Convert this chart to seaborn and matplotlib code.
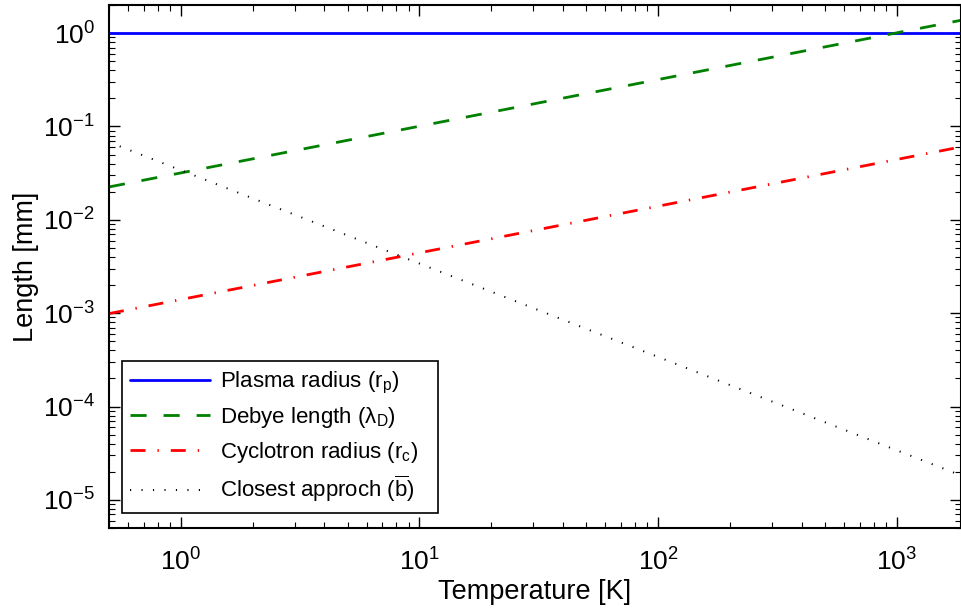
import numpy as np
import pandas as pd
import matplotlib
matplotlib.use("Agg")
import matplotlib.pyplot as plt
import seaborn as sns
from matplotlib.ticker import LogLocator, LogFormatterSciNotation, NullFormatter

# Data
temperature = [0.5, 1, 10, 100, 1000, 1860]
plasma_radius = [1.0, 1.0, 1.0, 1.0, 1.0, 1.0]
debye_length = [0.0225, 0.0318, 0.1006, 0.318, 1.006, 1.372]
cyclotron_radius = [0.00099, 0.0014, 0.00443, 0.014, 0.0443, 0.0604]
closest_approach = [0.068, 0.034, 0.0034, 0.00034, 3.4e-5, 1.83e-5]

labels = ["Plasma radius (r$_\\mathregular{p}$)",
          "Debye length ($\\lambda_\\mathregular{D}$)",
          "Cyclotron radius (r$_\\mathregular{c}$)",
          "Closest approch ($\\overline{\\mathregular{b}}$)"]

sns.set_theme(style="ticks")
plt.rcParams["font.family"] = ["Liberation Sans", "DejaVu Sans"]
plt.rcParams["mathtext.fontset"] = "custom"
plt.rcParams["mathtext.rm"] = "Liberation Sans"
plt.rcParams["mathtext.it"] = "Liberation Sans:italic"
plt.rcParams["mathtext.default"] = "regular"
for k in ["text.color", "axes.labelcolor", "xtick.color", "ytick.color",
          "xtick.labelcolor", "ytick.labelcolor"]:
    plt.rcParams[k] = "black"

fig = plt.figure(figsize=(9.62, 6.12), dpi=100)
ax = fig.add_axes([109/962, 1-528/612, 852/962, 523/612])

series = [plasma_radius, debye_length, cyclotron_radius, closest_approach]
colors = ["#0000FF", "#008000", "#FF0000", "#000000"]
styles = ["-", (0, (5.8, 6.1)), (0, (5.4, 4.3, 0.5, 4.3)), (0, (0.6, 5.3))]
widths = [2.0, 2.0, 2.0, 1.4]

for vals, lab, c, ls, lw in zip(series, labels, colors, styles, widths):
    df = pd.DataFrame({"T": temperature, "L": vals})
    sns.lineplot(data=df, x="T", y="L", ax=ax, color=c, label=lab,
                 linestyle=ls, linewidth=lw)

ax.set_xscale("log")
ax.set_yscale("log")
ax.set_xlim(0.5, 1860)
ax.set_ylim(5e-6, 2)

ax.xaxis.set_major_locator(LogLocator(base=10, numticks=20))
ax.xaxis.set_minor_locator(LogLocator(base=10, subs=np.arange(2, 10), numticks=20))
ax.yaxis.set_major_locator(LogLocator(base=10, numticks=20))
ax.yaxis.set_minor_locator(LogLocator(base=10, subs=np.arange(2, 10), numticks=20))
ax.xaxis.set_major_formatter(LogFormatterSciNotation())
ax.yaxis.set_major_formatter(LogFormatterSciNotation())
ax.xaxis.set_minor_formatter(NullFormatter())
ax.yaxis.set_minor_formatter(NullFormatter())

ax.tick_params(which="both", direction="in", top=True, right=True, color="black")
ax.tick_params(which="major", length=8, width=1.0, labelsize=19)
ax.tick_params(axis="x", which="major", pad=15)
ax.tick_params(axis="y", which="major", pad=10)
ax.tick_params(which="minor", length=4, width=0.8)
for s in ax.spines.values():
    s.set_visible(True)
    s.set_color("black")
    s.set_linewidth(1.5)

ax.set_xlabel("Temperature [K]", fontsize=19.5, labelpad=2)
ax.set_ylabel("Length [mm]", fontsize=19.5, labelpad=3)

leg = ax.legend(loc="lower left", bbox_to_anchor=(0.015, 0.029, 0.371, 0.28),
                mode="expand", borderaxespad=0,
                fontsize=16, handlelength=3.6, frameon=True, fancybox=False,
                framealpha=1, edgecolor="black", labelspacing=0.42,
                borderpad=0.38, handletextpad=0.45)
leg.get_frame().set_linewidth(1.2)

fig.savefig("out.png", dpi=100)
